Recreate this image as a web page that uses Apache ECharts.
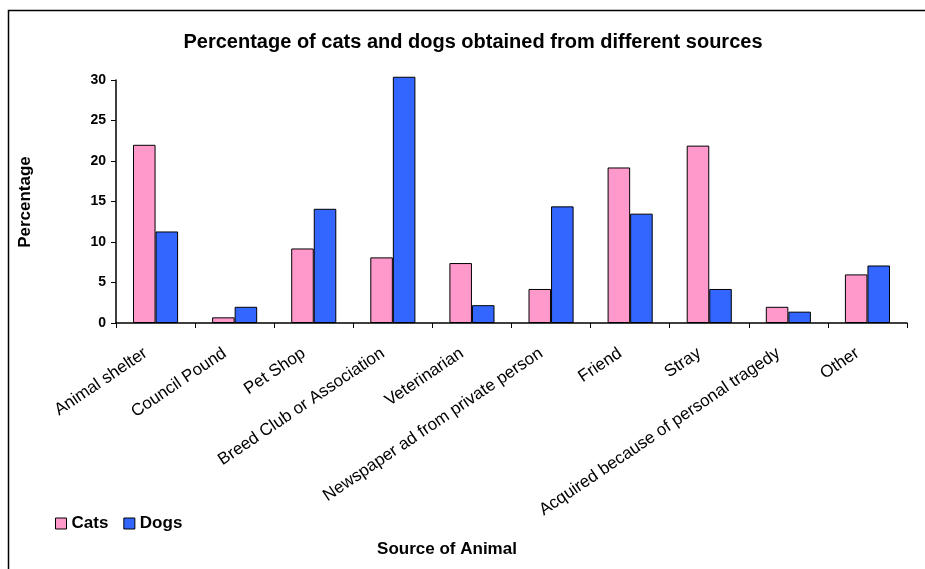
<!DOCTYPE html>
<html>
<head>
<meta charset="utf-8">
<script src="https://cdn.jsdelivr.net/npm/echarts@6/dist/echarts.min.js"></script>
<style>
  html, body { margin: 0; padding: 0; background: #fff; }
  #chart { width: 925px; height: 569px; }
</style>
</head>
<body>
<div id="chart"></div>
<script>
// Sources from which pets were obtained
const categories = [
  'Animal shelter', 'Council Pound', 'Pet Shop', 'Breed Club or Association',
  'Veterinarian', 'Newspaper ad from private person', 'Friend', 'Stray',
  'Acquired because of personal tragedy', 'Other'
];
// Percentage of animals per source
const cats = [22.0, 0.7, 9.2, 8.1, 7.4, 4.2, 19.2, 21.9, 2.0, 6.0];
const dogs = [11.3, 2.0, 14.1, 30.4, 2.2, 14.4, 13.5, 4.2, 1.4, 7.1];
const yTicks = { min: 0, max: 30, interval: 5 };

const FONT = 'Liberation Sans, Arial, sans-serif';
const chart = echarts.init(document.getElementById('chart'), null, { renderer: 'canvas' });

chart.setOption({
  animation: false,
  backgroundColor: '#ffffff',
  title: {
    text: 'Percentage of cats and dogs obtained from different sources',
    left: 473, top: 32, textAlign: 'center', padding: 0,
    textStyle: { fontFamily: FONT, fontSize: 20, fontWeight: 'bold', color: '#000' }
  },
  graphic: [
    {
      type: 'rect', silent: true, z: -1,
      shape: { x: 8.5, y: 10.5, width: 940, height: 620 },
      style: { fill: 'none', stroke: '#000', lineWidth: 1.5 }
    },
    {
      type: 'text', x: 447, y: 549,
      style: { text: 'Source of Animal', font: 'bold 17px ' + FONT, fill: '#000',
               align: 'center', verticalAlign: 'middle' }
    },
    {
      type: 'text', x: 25, y: 202, rotation: Math.PI / 2,
      style: { text: 'Percentage', font: 'bold 17px ' + FONT, fill: '#000',
               align: 'center', verticalAlign: 'middle' }
    }
  ],
  legend: {
    left: 55, top: 515, padding: 0,
    icon: 'rect', itemWidth: 11, itemHeight: 11, itemGap: 15,
    itemStyle: { borderColor: '#000', borderWidth: 1 },
    textStyle: { fontFamily: FONT, fontSize: 17, fontWeight: 'bold', color: '#000' },
    data: ['Cats', 'Dogs']
  },
  grid: { left: 116, right: 18, top: 80, bottom: 246, containLabel: false },
  xAxis: {
    type: 'category',
    data: categories,
    axisLine: { lineStyle: { color: '#000', width: 1.5 } },
    axisTick: { show: true, alignWithLabel: false, length: 5, lineStyle: { color: '#000' } },
    axisLabel: {
      interval: 0, rotate: 34, margin: 22,
      padding: [0, 12, 0, 0],
      fontFamily: FONT, fontSize: 17, color: '#000'
    }
  },
  yAxis: {
    type: 'value',
    min: yTicks.min, max: yTicks.max, interval: yTicks.interval,
    splitLine: { show: false },
    axisLine: { show: true, lineStyle: { color: '#000', width: 1.5 } },
    axisTick: { show: true, length: 5, lineStyle: { color: '#000' } },
    axisLabel: { fontFamily: FONT, fontSize: 14, fontWeight: 'bold', color: '#000', margin: 10 }
  },
  series: [
    {
      name: 'Cats', type: 'bar', data: cats, clip: false,
      barGap: '0%', barCategoryGap: '43%',
      itemStyle: { color: '#FF99CC', borderColor: '#000', borderWidth: 1 }
    },
    {
      name: 'Dogs', type: 'bar', data: dogs, clip: false,
      barGap: '0%', barCategoryGap: '43%',
      itemStyle: { color: '#3366FF', borderColor: '#000', borderWidth: 1 }
    }
  ]
});
</script>
</body>
</html>
